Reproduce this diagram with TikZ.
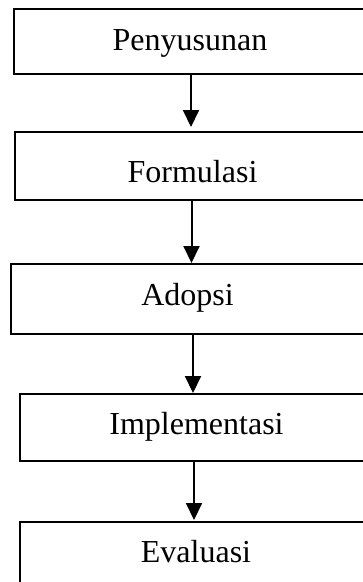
\documentclass[tikz,border=0pt]{standalone}
\usepackage{fontspec}
\setmainfont{Liberation Serif}
\usetikzlibrary{arrows.meta}
\begin{document}
\begin{tikzpicture}[x=1pt,y=-1pt,
  boxstyle/.style={draw, line width=1.5pt, inner sep=0pt, outer sep=0pt},
  lbl/.style={anchor=base, inner sep=0pt, font=\fontsize{32}{38}\selectfont},
  arr/.style={line width=2pt, -{Triangle[length=17pt,width=16pt]}}]
\useasboundingbox (0,0) rectangle (363,582);
\clip (0,0) rectangle (363,582);
\node[boxstyle, minimum width=353pt, minimum height=65pt] (b1) at (190.5,41.5) {};
\node[boxstyle, minimum width=355pt, minimum height=68pt] (b2) at (192.5,166) {};
\node[boxstyle, minimum width=358pt, minimum height=70pt] (b3) at (190,299) {};
\node[boxstyle, minimum width=353pt, minimum height=67pt] (b4) at (196.5,427.5) {};
\node[boxstyle, minimum width=352pt, minimum height=78pt] (b5) at (196,561) {};
\node[lbl] (t1) at (190,50) {Penyusunan};
\node[lbl] (t2) at (192.5,182) {Formulasi};
\node[lbl] (t3) at (187.5,305) {Adopsi};
\node[lbl] (t4) at (196.5,434) {Implementasi};
\node[lbl] (t5) at (196,562) {Evaluasi};
\coordinate (x1) at (191,0);
\coordinate (x2) at (191.5,0);
\coordinate (x3) at (193,0);
\coordinate (x4) at (194,0);
\draw[arr, shorten >=5pt] (b1.south -| x1) -- (b2.north -| x1);
\draw[arr, shorten >=1pt] (b2.south -| x2) -- (b3.north -| x2);
\draw[arr, shorten >=1pt] (b3.south -| x3) -- (b4.north -| x3);
\draw[arr, shorten >=2pt] (b4.south -| x4) -- (b5.north -| x4);
\end{tikzpicture}
\end{document}
